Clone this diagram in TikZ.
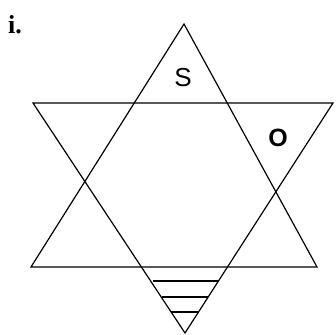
\documentclass[tikz,border=0pt]{standalone}
\usepackage{fontspec}
\setmainfont{Liberation Sans}
\newfontfamily\seriffont{Liberation Serif}
\begin{document}
\begin{tikzpicture}[x=1pt,y=-1pt,
  edge/.style={draw=black,line width=1.2pt,line join=miter},
  hatch/.style={draw=black,line width=1.2pt},
  lbl/.style={inner sep=0pt,anchor=center}]
\useasboundingbox (0,0) rectangle (336,334);
% upward triangle
\coordinate (UA) at (184,24);
\coordinate (UL) at (31,267);
\coordinate (UR) at (317,267);
% downward triangle
\coordinate (DL) at (33,103);
\coordinate (DR) at (333,103);
\coordinate (DA) at (185,333);
\draw[edge] (UA) -- (UL) -- (UR) -- cycle;
\draw[edge] (DL) -- (DR) -- (DA) -- cycle;
% hatching in lower tip
\coordinate (h1a) at (153,281); \coordinate (h1b) at (218,281);
\coordinate (h2a) at (162,297); \coordinate (h2b) at (208,297);
\coordinate (h3a) at (171,312); \coordinate (h3b) at (199,312);
\draw[hatch] (h1a) -- (h1b);
\draw[hatch] (h2a) -- (h2b);
\draw[hatch] (h3a) -- (h3b);
% labels
\node[lbl,font=\fontsize{26}{26}\selectfont] (S) at (183,78) {S};
\node[lbl,font=\fontsize{25}{25}\selectfont\bfseries] (O) at (278,138) {O};
\node[lbl,anchor=base west,font=\seriffont\fontsize{26}{26}\selectfont\bfseries] (i) at (8,34) {i.};
\end{tikzpicture}
\end{document}
